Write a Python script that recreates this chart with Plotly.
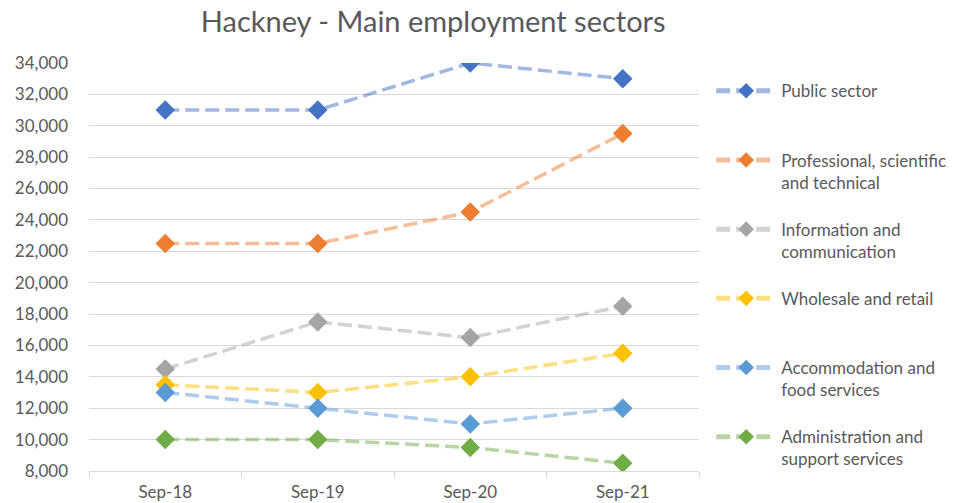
import plotly.graph_objects as go

categories = ["Sep-18", "Sep-19", "Sep-20", "Sep-21"]

public_sector = [31000, 31000, 34000, 33000]
professional = [22500, 22500, 24500, 29500]
information = [14500, 17500, 16500, 18500]
wholesale = [13500, 13000, 14000, 15500]
accommodation = [13000, 12000, 11000, 12000]
administration = [10000, 10000, 9500, 8500]

series_names = [
    "Public sector<br>&nbsp;",
    "Professional, scientific<br>and technical",
    "Information and<br>communication",
    "Wholesale and retail<br>&nbsp;",
    "Accommodation and<br>food services",
    "Administration and<br>support services",
]
series_values = [public_sector, professional, information, wholesale, accommodation, administration]
series_colors = [(68, 114, 196), (237, 125, 49), (165, 165, 165), (255, 192, 0), (91, 155, 213), (112, 173, 71)]

fig = go.Figure()
for i, (name, vals, c) in enumerate(zip(series_names, series_values, series_colors)):
    fig.add_trace(go.Scatter(
        x=categories, y=vals, name=name, mode="lines+markers",
        legendgroup=f"g{i}",
        line=dict(color=f"rgba({c[0]},{c[1]},{c[2]},0.5)", width=3.5, dash="14px,6px"),
        marker=dict(symbol="diamond", size=15, color=f"rgb({c[0]},{c[1]},{c[2]})"),
    ))

txt = "#595959"
fig.update_layout(
    width=967, height=503,
    margin=dict(l=89, r=268, t=63, b=32),
    paper_bgcolor="white", plot_bgcolor="white",
    font=dict(family="Lato, Calibri, sans-serif", color=txt, size=17),
    title=dict(text="Hackney - Main employment sectors", x=0.448, xanchor="center",
               y=1 - 22 / 503, yanchor="middle", font=dict(size=29, color=txt)),
    showlegend=True,
    legend=dict(x=1.02, xanchor="left", y=0.975, yanchor="top", valign="top",
                itemsizing="constant", itemwidth=60, maxheight=490,
                font=dict(size=17, color=txt), tracegroupgap=22, bgcolor="rgba(0,0,0,0)"),
    xaxis=dict(type="category", range=[-0.5, 3.5], showgrid=False, showline=True,
               linecolor="#D9D9D9", linewidth=1, ticks="outside", tickson="boundaries",
               ticklen=6, tickcolor="#D9D9D9", tickfont=dict(size=17, color=txt),
               ticklabelstandoff=6, automargin=False),
    yaxis=dict(range=[8000, 34000], dtick=2000, tickformat=",", showgrid=True,
               gridcolor="#D9D9D9", gridwidth=1, zeroline=False, showline=False,
               ticklabelstandoff=20, tickfont=dict(size=17, color=txt), automargin=False),
)

fig.write_html("out.html", config={"displayModeBar": False},
               post_script="document.body.style.margin='0';")
